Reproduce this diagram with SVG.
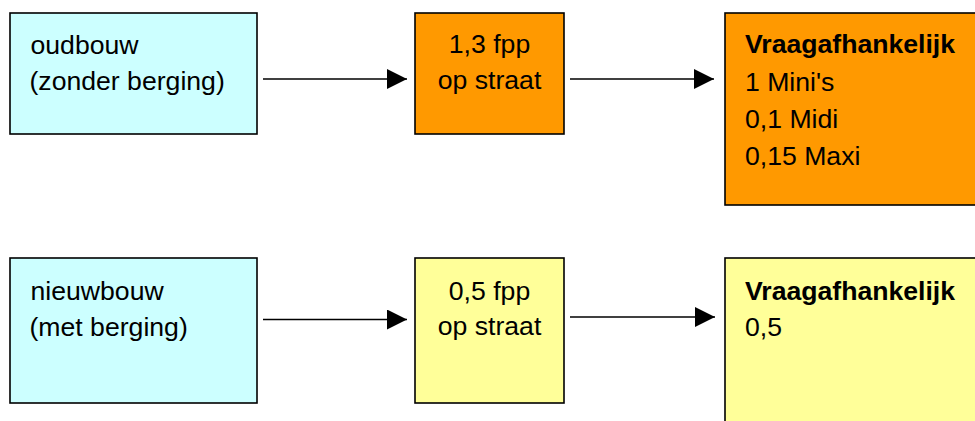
<svg xmlns="http://www.w3.org/2000/svg" width="975" height="421" viewBox="0 0 975 421">
<defs>
<style>
.box{stroke:#000;stroke-width:1.6}
.cyan{fill:#CCFFFF}
.orange{fill:#FF9900}
.yellow{fill:#FFFF99}
text{font-family:"Liberation Sans",Arial,sans-serif;font-size:25px;fill:#000}
.b{font-weight:bold}
.c{text-anchor:middle}
.conn line{stroke:#000;stroke-width:1.6}
</style>
<marker id="ah" viewBox="0 0 20 20" refX="20" refY="10" markerWidth="20" markerHeight="20" markerUnits="userSpaceOnUse" orient="auto">
<path d="M0,0 L20,10 L0,20 Z" fill="#000"/>
</marker>
</defs>
<rect width="975" height="421" fill="#fff"/>
<g id="oudbouw">
<rect class="box cyan" x="10" y="13" width="247" height="121"/>
<text transform="matrix(1.065 0 0 1 30.5 54)">oudbouw</text>
<text transform="matrix(1.065 0 0 1 29.5 90)">(zonder berging)</text>
</g>
<g id="fpp13">
<rect class="box orange" x="415" y="13" width="149" height="121"/>
<text class="c" transform="matrix(1.065 0 0 1 489.5 52.5)">1,3 fpp</text>
<text class="c" transform="matrix(1.065 0 0 1 489.5 88.5)">op straat</text>
</g>
<g id="vraag1">
<rect class="box orange" x="725" y="13" width="260" height="192"/>
<text class="b" transform="matrix(1.065 0 0 1 745 52.5)">Vraagafhankelijk</text>
<text transform="matrix(1.065 0 0 1 745 90.5)">1 Mini's</text>
<text transform="matrix(1.065 0 0 1 745 128)">0,1 Midi</text>
<text transform="matrix(1.065 0 0 1 745 164.5)">0,15 Maxi</text>
</g>
<g id="nieuwbouw">
<rect class="box cyan" x="10" y="258" width="247" height="145"/>
<text transform="matrix(1.065 0 0 1 30.5 300)">nieuwbouw</text>
<text transform="matrix(1.065 0 0 1 29.5 336)">(met berging)</text>
</g>
<g id="fpp05">
<rect class="box yellow" x="415" y="258" width="149" height="145"/>
<text class="c" transform="matrix(1.065 0 0 1 489.5 299.5)">0,5 fpp</text>
<text class="c" transform="matrix(1.065 0 0 1 489.5 335)">op straat</text>
</g>
<g id="vraag2">
<rect class="box yellow" x="725" y="258" width="260" height="180"/>
<text class="b" transform="matrix(1.065 0 0 1 745 299.5)">Vraagafhankelijk</text>
<text transform="matrix(1.065 0 0 1 745 336)">0,5</text>
</g>
<g class="conn" id="connectors">
<line x1="263" y1="79" x2="407" y2="79" marker-end="url(#ah)"/>
<line x1="570" y1="79" x2="714" y2="79" marker-end="url(#ah)"/>
<line x1="263" y1="319.5" x2="407" y2="319.5" marker-end="url(#ah)"/>
<line x1="570" y1="317" x2="715" y2="317" marker-end="url(#ah)"/>
</g>
</svg>
